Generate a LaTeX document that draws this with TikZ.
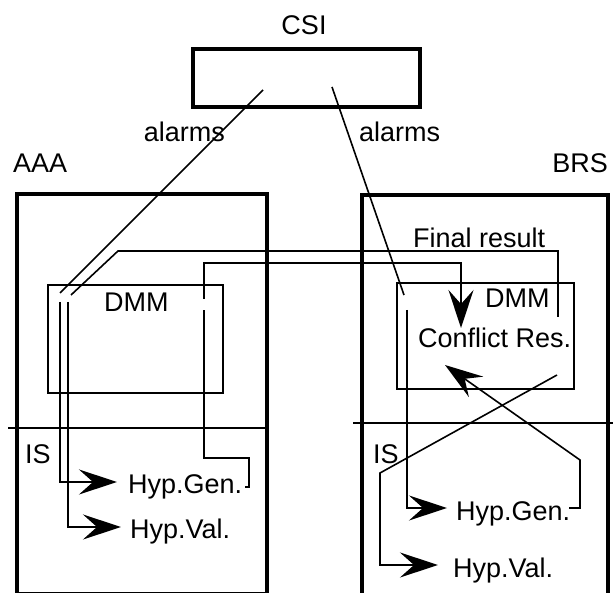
\documentclass[tikz,border=0pt]{standalone}
\usepackage{fontspec}
\setmainfont{Liberation Sans}
\usetikzlibrary{arrows.meta}
\begin{document}
\begin{tikzpicture}[x=1pt,y=-1pt,
  bigbox/.style={draw, line width=4pt, inner sep=0pt, anchor=north west},
  thinbox/.style={draw, line width=1.6pt, inner sep=0pt, anchor=north west},
  thin/.style={line width=1.6pt},
  lbl/.style={inner sep=0pt, font=\fontsize{27}{32}\selectfont},
  arr/.style={thin, -{Stealth[length=38pt,width=25pt,inset=14pt]}}]
\useasboundingbox (0,0) rectangle (613,593);

% boxes
\node[bigbox, minimum width=227pt, minimum height=57.5pt] (csi) at (191,47.5) {};
\node[bigbox, minimum width=250pt, minimum height=399.5pt] (aaa) at (15,192) {};
\draw[line width=4pt] (362,596) -- (362,195) coordinate (brsnw) -- (608,195) coordinate (brsne) -- (608,596);
\node[thinbox, minimum width=175pt, minimum height=108pt] (dmma) at (47,284) {};
\node[thinbox, minimum width=177pt, minimum height=106pt] (dmmb) at (396,282) {};
\coordinate (isaw) at (8,428); \coordinate (isae) at (267,428);
\coordinate (isbw) at (353,423); \coordinate (isbe) at (613,423);
\draw[thin] (isaw) -- (isae);
\draw[thin] (isbw) -- (isbe);

% labels
\node[lbl, anchor=base] (csil) at (304,35) {CSI};
\node[lbl, anchor=base west] (aaal) at (13,173) {AAA};
\node[lbl, anchor=base east] (brsl) at (608,173) {BRS};
\node[lbl, anchor=base east] (al1) at (225,142) {alarms};
\node[lbl, anchor=base west] (al2) at (359,142) {alarms};
\node[lbl, anchor=base west] (fr) at (413,248) {Final result};
\node[lbl, anchor=base west] (dmm1) at (104,312) {DMM};
\node[lbl, anchor=base west] (dmm2) at (485,308) {DMM};
\node[lbl, anchor=base west] (cr) at (418,348) {Conflict Res.};
\node[lbl, anchor=base west] (is1) at (25,463) {IS};
\node[lbl, anchor=base west] (is2) at (373,463) {IS};
\node[lbl, anchor=base west] (hg1) at (128,493) {Hyp.Gen.};
\node[lbl, anchor=base west] (hv1) at (130,538) {Hyp.Val.};
\node[lbl, anchor=base west] (hg2) at (456,520) {Hyp.Gen.};
\node[lbl, anchor=base west] (hv2) at (453,577) {Hyp.Val.};

% connector end points
\coordinate (a1s) at (263,90);  \coordinate (a1e) at (60,293);
\coordinate (a1v) at (60,302);  \coordinate (hg1in) at (117,482);
\coordinate (frs) at (558,317); \coordinate (fre) at (71,295);
\coordinate (frv) at (68,302);  \coordinate (hv1in) at (121,527);
\coordinate (hg1out) at (245,487); \coordinate (c1) at (204,310);
\coordinate (c2) at (204,299);  \coordinate (crin) at (461,328);
\coordinate (a2s) at (332,87);  \coordinate (a2e) at (404,295);
\coordinate (a2v) at (407,310); \coordinate (hg2in) at (447,508);
\coordinate (hg2out) at (569,508); \coordinate (crin2) at (445,365);
\coordinate (dmmbout) at (557,375); \coordinate (hv2in) at (438,565);

% connectors
\draw[thin] (a1s) -- (a1e);
\draw[arr] (a1v) |- (hg1in);
\draw[thin] (frs) -- (558,251) -- (118,251) -- (fre);
\draw[arr] (frv) |- (hv1in);
\draw[thin] (hg1out) -- (249,487) -- (249,458) -- (204,458) -- (c1);
\draw[arr] (c2) -- (204,263) -- (461,263) -- (crin);
\draw[thin] (a2s) -- (a2e);
\draw[arr] (a2v) |- (hg2in);
\draw[arr] (hg2out) -- (580,508) -- (580,460) -- (crin2);
\draw[arr] (dmmbout) -- (380,473) -- (380,565) -- (hv2in);
\end{tikzpicture}
\end{document}
